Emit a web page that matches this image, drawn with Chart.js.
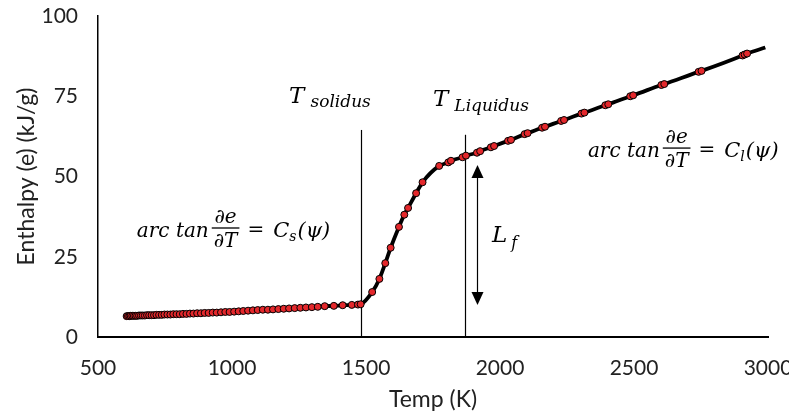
<!DOCTYPE html>
<html>
<head>
<meta charset="utf-8">
<script src="https://cdn.jsdelivr.net/npm/chart.js@4.4.0/dist/chart.umd.min.js"></script>
<style>
  html, body { margin: 0; padding: 0; background: #fff; }
</style>
</head>
<body>
<canvas id="chart" width="789" height="418"></canvas>
<script>
// temperature (K) and enthalpy (kJ/g) of the heating run
const temps = [
  607, 612, 617, 622, 628, 634, 640, 646, 653, 660,
  667, 675, 683, 691, 700, 709, 718, 728, 738, 748,
  759, 770, 781, 793, 805, 817, 830, 843, 856, 870,
  884, 898, 913, 928, 943, 959, 975, 991, 1008, 1025,
  1042, 1060, 1078, 1096, 1115, 1134, 1153, 1173, 1193, 1213,
  1234, 1255, 1276, 1298, 1320, 1346, 1380, 1413, 1447, 1470,
  1480, 1523, 1550, 1572, 1592, 1623, 1643, 1657, 1687, 1711,
  1773, 1807, 1817, 1860, 1873, 1914, 1926, 1966, 1978, 2030,
  2041, 2092, 2103, 2157, 2168, 2228, 2239, 2304, 2315, 2393,
  2404, 2486, 2497, 2602, 2613, 2741, 2752, 2905, 2913, 2922,
  2990
];
const enthalpy = [
  6.5, 6.5, 6.5, 6.6, 6.6, 6.6, 6.6, 6.6, 6.7, 6.7,
  6.7, 6.7, 6.8, 6.8, 6.8, 6.8, 6.9, 6.9, 6.9, 7.0,
  7.0, 7.0, 7.1, 7.1, 7.1, 7.2, 7.2, 7.3, 7.3, 7.4,
  7.4, 7.5, 7.5, 7.6, 7.6, 7.7, 7.8, 7.8, 7.9, 8.0,
  8.1, 8.2, 8.3, 8.4, 8.5, 8.5, 8.6, 8.7, 8.8, 8.9,
  9.0, 9.1, 9.2, 9.3, 9.4, 9.6, 9.7, 9.9, 10.0, 10.1,
  10.2, 14.0, 18.1, 23.0, 27.8, 34.3, 38.1, 40.2, 44.8, 48.2,
  53.3, 54.4, 54.9, 56.0, 56.5, 57.4, 57.9, 59.1, 59.5, 61.1,
  61.4, 63.2, 63.5, 65.2, 65.5, 67.3, 67.6, 69.6, 69.9, 72.2,
  72.5, 75.0, 75.3, 78.5, 78.8, 82.6, 82.9, 87.7, 88.0, 88.3,
  90.2
];
const xTicks = [500, 1000, 1500, 2000, 2500, 3000];
const yTicks = [0, 25, 50, 75, 100];

const tSolidus = 1480;
const tLiquidus = 1870;
const tArrow = 1913;
const latentRange = [10, 53.6];

const mathFont = '"DejaVu Serif", serif';
const axisFont = 'Lato, "Open Sans", sans-serif';

function drawFormula(ctx, x0, base, sub) {
  ctx.textBaseline = 'alphabetic';
  ctx.textAlign = 'left';
  ctx.font = 'italic 20px ' + mathFont;
  ctx.fillText('arc tan', x0, base);
  let x = x0 + ctx.measureText('arc tan').width + 3;
  // fraction de/dT
  const wTop = ctx.measureText('∂e').width;
  const wBot = ctx.measureText('∂T').width;
  const wf = Math.max(wTop, wBot) + 4;
  ctx.fillText('∂e', x + (wf - wTop) / 2, base - 14);
  ctx.fillText('∂T', x + (wf - wBot) / 2, base + 10);
  ctx.fillRect(x, base - 9.5, wf, 1.3);
  x += wf + 8;
  ctx.font = '20px ' + mathFont;
  ctx.fillText('=', x, base - 1);
  x += ctx.measureText('=').width + 9;
  ctx.font = 'italic 21px ' + mathFont;
  ctx.fillText('C', x, base);
  x += ctx.measureText('C').width;
  ctx.font = 'italic 14px ' + mathFont;
  ctx.fillText(sub, x, base + 4);
  x += ctx.measureText(sub).width + 1;
  ctx.font = 'italic 21px ' + mathFont;
  ctx.fillText('(ψ)', x, base);
}

function drawSubscripted(ctx, x0, base, main, sub, size, subSize, gap, drop) {
  ctx.textBaseline = 'alphabetic';
  ctx.textAlign = 'left';
  ctx.font = 'italic ' + size + 'px ' + mathFont;
  ctx.fillText(main, x0, base);
  const w = ctx.measureText(main).width;
  ctx.font = 'italic ' + subSize + 'px ' + mathFont;
  ctx.fillText(sub, x0 + w + gap, base + drop);
}

const annotations = {
  id: 'annotations',
  beforeDatasetsDraw(chart) {
    const { ctx, scales: { x, y } } = chart;
    ctx.save();
    ctx.strokeStyle = '#000';
    ctx.lineWidth = 1.2;
    [[tSolidus, 64.5], [tLiquidus, 63]].forEach(function (m) {
      const px = Math.round(x.getPixelForValue(m[0])) + 0.5;
      ctx.beginPath();
      ctx.moveTo(px, y.getPixelForValue(m[1]));
      ctx.lineTo(px, y.getPixelForValue(0));
      ctx.stroke();
    });
    ctx.restore();
  },
  afterDatasetsDraw(chart) {
    const { ctx, scales: { x, y } } = chart;
    ctx.save();
    ctx.fillStyle = '#000';
    ctx.strokeStyle = '#000';

    // double arrow for the latent heat
    const ax = Math.round(x.getPixelForValue(tArrow)) + 0.5;
    const yLo = y.getPixelForValue(latentRange[0]);
    const yHi = y.getPixelForValue(latentRange[1]);
    ctx.lineWidth = 1.2;
    ctx.beginPath();
    ctx.moveTo(ax, yHi + 10);
    ctx.lineTo(ax, yLo - 10);
    ctx.stroke();
    ctx.beginPath();
    ctx.moveTo(ax, yHi);
    ctx.lineTo(ax - 6, yHi + 13);
    ctx.lineTo(ax + 6, yHi + 13);
    ctx.closePath();
    ctx.fill();
    ctx.beginPath();
    ctx.moveTo(ax, yLo);
    ctx.lineTo(ax - 6, yLo - 13);
    ctx.lineTo(ax + 6, yLo - 13);
    ctx.closePath();
    ctx.fill();

    drawSubscripted(ctx, x.getPixelForValue(1213), y.getPixelForValue(72.9), 'T', 'solidus', 23, 17, 6, 4);
    drawSubscripted(ctx, x.getPixelForValue(1750), y.getPixelForValue(72.0), 'T', 'Liquidus', 23, 17, 6, 5);
    drawSubscripted(ctx, x.getPixelForValue(1970), y.getPixelForValue(29.6), 'L', 'f', 23, 16, 4, 6);

    drawFormula(ctx, x.getPixelForValue(645), y.getPixelForValue(31.2), 's');
    drawFormula(ctx, x.getPixelForValue(2328), y.getPixelForValue(56.1), 'l');
    ctx.restore();
  }
};

const ctx = document.getElementById('chart').getContext('2d');
const myChart = new Chart(ctx, {
  type: 'line',
  data: {
    datasets: [
      {
        label: 'Enthalpy',
        data: temps.map(function (t, i) { return { x: t, y: enthalpy[i] }; }),
        borderColor: '#000',
        borderWidth: 3.8,
        cubicInterpolationMode: 'monotone',
        pointRadius: temps.map(function (t, i) { return i === temps.length - 1 ? 0 : 3.5; }),
        pointBackgroundColor: '#e4282c',
        pointBorderColor: '#000',
        pointBorderWidth: 1,
      },
    ],
  },
  plugins: [annotations],
  options: {
    responsive: false,
    animation: false,
    layout: { padding: 0 },
    plugins: {
      legend: { display: false },
      tooltip: { enabled: false },
    },
    scales: {
      x: {
        type: 'linear',
        min: xTicks[0],
        max: xTicks[xTicks.length - 1],
        afterBuildTicks: function (scale) {
          scale.ticks = xTicks.map(function (v) { return { value: v }; });
        },
        grid: { display: false, drawTicks: false },
        border: { color: '#000', width: 2 },
        ticks: {
          color: '#222', font: { family: axisFont, size: 21 }, padding: 19, maxRotation: 0,
          callback: function (v) { return String(v); },
        },
        title: {
          display: true,
          text: 'Temp (K)',
          color: '#222',
          font: { family: axisFont, size: 23 },
          padding: { top: 0, bottom: 5 },
        },
        afterFit: function (scale) {
          scale.height = 81;
          scale.paddingLeft = 0;
          scale.paddingRight = 21;
        },
      },
      y: {
        min: yTicks[0],
        max: yTicks[yTicks.length - 1],
        afterBuildTicks: function (scale) {
          scale.ticks = yTicks.map(function (v) { return { value: v }; });
        },
        grid: { display: false, drawTicks: false },
        border: { color: '#000', width: 1.5 },
        ticks: {
          color: '#222', font: { family: axisFont, size: 21 }, padding: 20,
          callback: function (v) { return String(v); },
        },
        title: {
          display: true,
          text: 'Enthalpy (e) (kJ/g)',
          color: '#222',
          font: { family: axisFont, size: 23 },
          padding: { top: 13, bottom: 0 },
        },
        afterFit: function (scale) {
          scale.width = 98;
          scale.paddingTop = 16;
          scale.paddingBottom = 0;
        },
      },
    },
  },
});
</script>
</body>
</html>
